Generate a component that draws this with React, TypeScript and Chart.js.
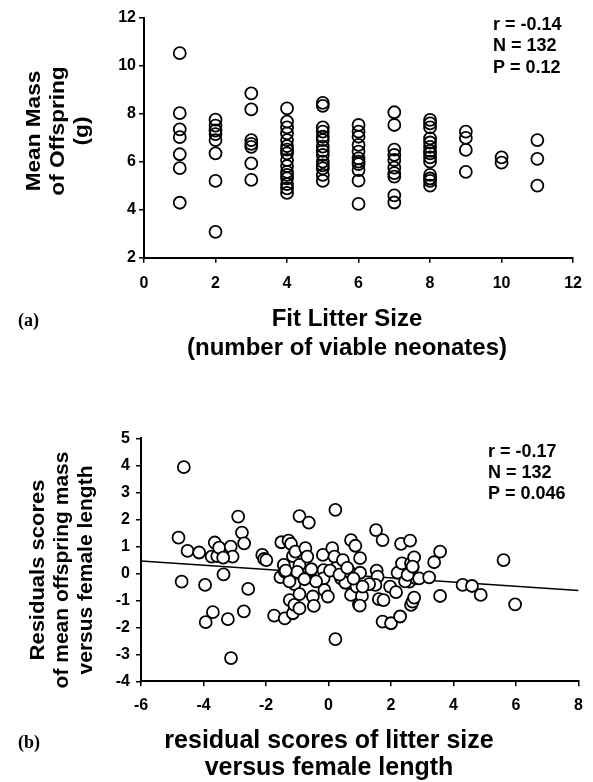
import React, { useEffect, useRef } from "react";
import { Chart, registerables } from "chart.js";

Chart.register(...registerables);

// ---- Panel (a): mean offspring mass against fit litter size ----
const litterSizeCategories = [1, 2, 3, 4, 5, 6, 7, 8, 9, 10, 11];
const meanMassByLitterSize: number[][] = [
  [10.52, 8.02, 7.35, 7.02, 6.31, 5.73, 4.29],
  [7.75, 7.5, 7.3, 7.15, 6.9, 6.35, 5.2, 3.08],
  [8.85, 8.18, 6.9, 6.74, 6.62, 5.93, 5.24],
  [8.22, 7.67, 7.43, 7.18, 6.9, 6.65, 6.5, 6.35, 6.07, 5.82, 5.58, 5.45, 5.31, 5.07, 4.89, 4.7],
  [8.45, 8.33, 7.43, 7.25, 7.04, 6.9, 6.63, 6.45, 6.28, 6.0, 5.85, 5.72, 5.45, 5.2],
  [7.53, 7.25, 7.04, 6.7, 6.42, 6.14, 6.0, 5.9, 5.65, 5.21, 4.24],
  [8.06, 7.53, 6.5, 6.28, 6.07, 5.75, 5.52, 5.38, 4.6, 4.3],
  [7.74, 7.6, 7.43, 6.97, 6.8, 6.62, 6.45, 6.35, 6.18, 6.0, 5.45, 5.3, 5.2, 5.0],
  [7.25, 6.99, 6.49, 5.58],
  [6.18, 5.96],
  [6.9, 6.12, 5.0],
];
const statsA = ["r = -0.14", "N = 132", "P = 0.12"];

// ---- Panel (b): residual offspring mass against residual litter size ----
const residualLitterSize = [
  -4.63, -4.8, -4.51, -4.14, -4.7, -3.95, -3.93, -3.7, -3.64, -3.74,
  -3.56, -3.5, -3.36, -3.22, -3.13, -3.07, -3.12, -2.89, -2.77, -2.7,
  -2.71, -2.57, -2.12, -2.06, -1.74, -1.54, -1.51, -1.43, -1.4, -1.4,
  -1.28, -1.2, -1.14, -1.09, -1.24, -1.14, -1.09, -1.06, -0.93, -0.93,
  -0.93, -0.93, -0.74, -0.74, -0.68, -0.63, -0.5, -0.47, -0.23, -0.18,
  -0.16, -0.16, -0.13, -0.02, 0.12, 0.19, 0.22, 0.22, 0.24, 0.4,
  0.46, 0.54, 0.67, 0.72, 0.72, 0.86, 0.9, 0.97, 1.01, 1.01,
  1.07, 1.52, 1.54, 1.57, 1.5, 1.61, 1.73, 1.73, 1.76, 2.0,
  1.97, 2.16, 2.21, 2.29, 2.32, 2.35, 2.61, 2.59, 2.59, 2.64,
  2.64, 2.69, 2.74, 2.74, 2.69, 2.8, 2.9, 3.22, 3.38, 3.57,
  3.57, 4.29, 4.59, 4.87, 5.6, 5.97, -3.37, -1.99, -0.4, 0.05,
  -0.55, 0.35, -1.0, 0.6, 1.3, 2.45, -1.25, 0.8, 2.53, 2.69,
  1.09, 1.0, -0.77, -1.37,
];
const residualOffspringMass = [
  3.93, 1.32, 0.83, 0.77, -0.31, -0.43, -1.81, -1.44, 1.14, 0.62,
  0.64, 0.95, -0.04, -1.7, 0.99, 0.62, -3.14, 2.1, 1.51, 1.11,
  -1.41, -0.58, 0.68, 0.53, -1.57, -0.14, 1.15, 0.31, 0.06, -1.67,
  1.21, 1.09, 0.64, -0.4, -0.99, -1.48, -1.17, 0.8, 2.12, 0.31,
  -0.77, -1.3, 0.93, -0.19, 0.62, 1.88, -0.86, -1.21, 0.0, 0.68,
  0.12, -0.19, -0.62, -0.86, 0.93, 0.62, 2.35, -2.44, 0.19, -0.19,
  0.49, -0.35, 0.06, 1.23, -0.8, 1.02, -0.49, -1.14, 0.56, 0.02,
  -0.84, 1.6, 0.1, -0.12, -0.43, -0.96, 1.23, -1.79, -0.99, -1.85,
  -0.49, -0.7, 0.02, -1.6, 1.09, 0.37, 1.21, -0.1, -0.31, 0.37,
  -1.17, -1.05, 0.59, -0.9, 0.22, -0.19, -0.19, -0.15, 0.41, 0.8,
  -0.84, -0.43, -0.47, -0.8, 0.49, -1.15, 0.58, 0.49, -0.3, 0.1,
  0.15, -0.05, 0.05, 0.2, -0.4, -0.3, -0.3, -0.2, -0.06, 0.25,
  -0.49, -1.2, -0.22, 0.1,
];
// Least-squares line, evaluated at the ends of the x range
const fitLineX = [-6, 8];
const fitLineY = [0.46, -0.64];
const statsB = ["r = -0.17", "N = 132", "P = 0.046"];

const SANS = "'Liberation Sans', Arial, Helvetica, sans-serif";
const SERIF = "'Liberation Serif', 'Times New Roman', serif";

type TextItem = {
  text: string;
  x: number;
  y: number;
  size: number;
  family?: string;
  align?: CanvasTextAlign;
  rotate?: boolean;
  stretch?: number;
};

// Draws axis titles, panel letters and the statistics block
const figureTextPlugin = {
  id: "figureText",
  afterDraw(chart: any, _args: any, opts: any) {
    const items: TextItem[] = opts.items || [];
    const ctx: CanvasRenderingContext2D = chart.ctx;
    ctx.save();
    ctx.fillStyle = "#000";
    ctx.textBaseline = "middle";
    for (const it of items) {
      ctx.font = `bold ${it.size}px ${it.family || SANS}`;
      ctx.textAlign = it.align || "center";
      ctx.save();
      ctx.translate(it.x, it.y);
      if (it.rotate) ctx.rotate(-Math.PI / 2);
      if (it.stretch) ctx.scale(it.stretch, 1);
      ctx.fillText(it.text, 0, 0);
      ctx.restore();
    }
    ctx.restore();
  },
};

function axisStyle(min: number, max: number, step: number, pad: number, size: (s: any) => void) {
  return {
    type: "linear" as const,
    min,
    max,
    ticks: {
      stepSize: step,
      color: "#000",
      padding: pad,
      font: { family: SANS, size: 16, weight: "bold" as const },
    },
    grid: {
      display: true,
      drawOnChartArea: false,
      drawTicks: true,
      tickLength: 5,
      color: "#000",
      lineWidth: 1.5,
    },
    border: { display: true, color: "#000", width: 2 },
    afterFit: size,
  };
}

function statsItems(lines: string[], x: number, y0: number, gap: number): TextItem[] {
  return lines.map((t, i) => ({ text: t, x, y: y0 + i * gap, size: 18, align: "left" as CanvasTextAlign }));
}

export default function App() {
  const topRef = useRef<HTMLCanvasElement>(null);
  const bottomRef = useRef<HTMLCanvasElement>(null);

  useEffect(() => {
    document.body.style.margin = "0";
    const topPoints = litterSizeCategories.flatMap((size, i) =>
      meanMassByLitterSize[i].map((m) => ({ x: size, y: m }))
    );

    const chartA = new Chart(topRef.current!, {
      type: "scatter",
      data: {
        datasets: [
          {
            data: topPoints,
            pointRadius: 6,
            pointBorderWidth: 1.8,
            pointBorderColor: "#000",
            pointBackgroundColor: "rgba(0,0,0,0)",
          },
        ],
      },
      options: {
        responsive: false,
        animation: false,
        layout: { padding: { top: 17.7, right: 17, bottom: 0, left: 0 } },
        plugins: {
          legend: { display: false },
          tooltip: { enabled: false },
          figureText: {
            items: [
              { text: "Mean Mass", x: 34, y: 131, size: 20, rotate: true, stretch: 1.13 },
              { text: "of Offspring", x: 58, y: 131, size: 20, rotate: true, stretch: 1.13 },
              { text: "(g)", x: 82, y: 131, size: 20, rotate: true, stretch: 1.13 },
              { text: "Fit Litter Size", x: 347, y: 319, size: 24 },
              { text: "(number of viable neonates)", x: 347, y: 348, size: 24 },
              { text: "(a)", x: 18, y: 321, size: 18, family: SERIF, align: "left" },
              ...statsItems(statsA, 493, 25, 21.5),
            ],
          },
        } as any,
        scales: {
          x: axisStyle(0, 12, 2, 11, (s: any) => { s.height = 132.3; }),
          y: axisStyle(2, 12, 2, 3, (s: any) => { s.width = 144; }),
        },
      },
      plugins: [figureTextPlugin],
    });

    const bottomPoints = residualLitterSize.map((x, i) => ({ x, y: residualOffspringMass[i] }));
    const linePoints = fitLineX.map((x, i) => ({ x, y: fitLineY[i] }));

    const chartB = new Chart(bottomRef.current!, {
      type: "scatter",
      data: {
        datasets: [
          {
            data: bottomPoints,
            order: 1,
            pointRadius: 6,
            pointBorderWidth: 1.8,
            pointBorderColor: "#000",
            pointBackgroundColor: "#fff",
          },
          {
            data: linePoints,
            order: 2,
            showLine: true,
            pointRadius: 0,
            borderColor: "#000",
            borderWidth: 1.5,
          },
        ],
      },
      options: {
        responsive: false,
        animation: false,
        layout: { padding: { top: 48.3, right: 13, bottom: 0, left: 0 } },
        plugins: {
          legend: { display: false },
          tooltip: { enabled: false },
          figureText: {
            items: [
              { text: "Residuals scores", x: 38, y: 180, size: 20, rotate: true, stretch: 1.1 },
              { text: "of mean offspring mass", x: 62, y: 180, size: 20, rotate: true, stretch: 1.05 },
              { text: "versus female length", x: 86, y: 180, size: 20, rotate: true, stretch: 1.05 },
              { text: "residual scores of litter size", x: 329, y: 351, size: 25 },
              { text: "versus female length", x: 329, y: 378, size: 25 },
              { text: "(b)", x: 18, y: 353, size: 18, family: SERIF, align: "left" },
              ...statsItems(statsB, 488, 62, 21),
            ],
          },
        } as any,
        scales: {
          x: axisStyle(-6, 8, 2, 10, (s: any) => { s.height = 100.7; }),
          y: axisStyle(-4, 5, 1, 6, (s: any) => { s.width = 141; }),
        },
      },
      plugins: [figureTextPlugin],
    });

    return () => {
      chartA.destroy();
      chartB.destroy();
    };
  }, []);

  return (
    <div style={{ position: "absolute", left: 0, top: 0, width: 593, height: 782, background: "#fff" }}>
      <canvas ref={topRef} width={593} height={390} style={{ display: "block" }} />
      <canvas ref={bottomRef} width={593} height={392} style={{ display: "block" }} />
    </div>
  );
}
